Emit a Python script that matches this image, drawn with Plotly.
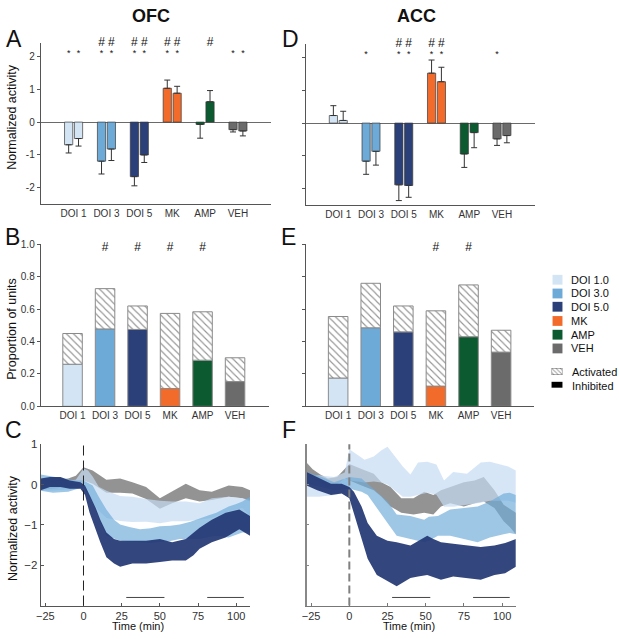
import plotly.graph_objects as go

W, H = 619, 639

# ---------------- data ----------------
categories = ["DOI 1", "DOI 3", "DOI 5", "MK", "AMP", "VEH"]
legend_labels = ["DOI 1.0", "DOI 3.0", "DOI 5.0", "MK", "AMP", "VEH"]
colors = ["#d3e5f4", "#6daad8", "#2b3f78", "#f36b2b", "#0b5a30", "#6b6b6b"]

# Panel A (OFC) normalized activity, two bars per drug
ofc_act_1 = [-0.69, -1.19, -1.66, 1.03, -0.07, -0.23]
ofc_err_1 = [0.25, 0.39, 0.28, 0.25, 0.42, 0.07]
ofc_act_2 = [-0.50, -0.82, -1.00, 0.88, 0.62, -0.27]
ofc_err_2 = [0.23, 0.35, 0.23, 0.21, 0.34, 0.15]
ofc_star_1 = ["*", "*", "*", "*", "", "*"]
ofc_star_2 = ["*", "*", "*", "*", "", "*"]
ofc_hash_1 = ["", "#", "#", "#", "", ""]
ofc_hash_2 = ["", "#", "#", "#", "#", ""]

# Panel D (ACC)
acc_act_1 = [0.23, -1.16, -1.88, 1.52, -0.94, -0.48]
acc_err_1 = [0.30, 0.40, 0.48, 0.40, 0.41, 0.20]
acc_act_2 = [0.08, -0.86, -1.90, 1.26, -0.29, -0.38]
acc_err_2 = [0.28, 0.42, 0.36, 0.44, 0.46, 0.22]
acc_star_1 = ["", "*", "*", "*", "", "*"]
acc_star_2 = ["", "", "*", "*", "", ""]
acc_hash_1 = ["", "", "#", "#", "", ""]
acc_hash_2 = ["", "", "#", "#", "", ""]

# Panels B / E: proportion of units (total responsive, inhibited part)
ofc_total = [0.45, 0.727, 0.62, 0.574, 0.584, 0.30]
ofc_inhib = [0.26, 0.478, 0.475, 0.11, 0.285, 0.153]
ofc_prop_hash = ["", "#", "#", "#", "#", ""]
acc_total = [0.555, 0.76, 0.62, 0.59, 0.75, 0.47]
acc_inhib = [0.175, 0.485, 0.46, 0.125, 0.43, 0.335]
acc_prop_hash = ["", "", "", "#", "#", ""]

# Panels C / F: time courses (upper / lower edges of mean +/- SEM)
ofc_veh_t = [-28, -20, -10, -5, 0, 6, 15, 24, 32, 41, 50, 58, 67, 76, 84, 95, 104, 109]
ofc_veh_up = [0.12, 0.10, 0.15, 0.22, 0.43, 0.35, 0.12, 0.15, 0.06, -0.06, -0.34, -0.18, 0.02, -0.14, -0.18, -0.02, -0.06, -0.14]
ofc_veh_lo = [-0.12, -0.10, -0.05, 0.0, 0.10, 0.02, -0.20, -0.20, -0.22, -0.36, -0.60, -0.46, -0.34, -0.42, -0.38, -0.30, -0.34, -0.42]

ofc_doi1_t = [-28, -20, -10, -5, 0, 3, 6, 10, 15, 24, 32, 41, 50, 58, 67, 76, 84, 95, 104, 109]
ofc_doi1_up = [0.10, 0.08, 0.10, 0.12, 0.40, 0.35, 0.20, -0.05, -0.15, -0.28, -0.30, -0.36, -0.40, -0.42, -0.42, -0.46, -0.34, -0.30, -0.34, -0.38]
ofc_doi1_lo = [-0.15, -0.15, -0.12, -0.10, -0.08, -0.20, -0.45, -0.65, -0.83, -0.90, -0.93, -0.92, -0.96, -0.91, -0.91, -0.87, -0.83, -0.66, -0.58, -0.78]

ofc_doi3_t = [-28, -20, -10, -5, 0, 6, 10, 15, 20, 24, 30, 37, 44, 50, 57, 63, 70, 76, 82, 87, 95, 100, 104, 109]
ofc_doi3_up = [0.25, 0.20, 0.12, 0.10, 0.10, -0.02, -0.30, -0.62, -0.87, -0.99, -1.05, -1.11, -1.08, -1.03, -1.02, -0.99, -0.92, -0.83, -0.76, -0.70, -0.54, -0.48, -0.42, -0.30]
ofc_doi3_lo = [-0.15, -0.20, -0.18, -0.12, -0.06, -0.46, -0.85, -1.27, -1.33, -1.39, -1.42, -1.43, -1.45, -1.43, -1.40, -1.35, -1.35, -1.35, -1.30, -1.27, -1.31, -1.25, -1.19, -1.19]

ofc_doi5_t = [-28, -22, -15, -9, -2, 1, 4, 8, 11, 15, 20, 24, 32, 41, 50, 58, 67, 72, 76, 84, 93, 102, 109]
ofc_doi5_up = [0.15, 0.19, 0.19, 0.10, 0.06, -0.02, -0.26, -0.58, -0.87, -1.19, -1.35, -1.39, -1.39, -1.39, -1.35, -1.43, -1.35, -1.20, -1.07, -0.87, -0.70, -0.62, -0.78]
ofc_doi5_lo = [-0.14, -0.06, -0.06, -0.10, -0.10, -0.26, -0.70, -1.11, -1.43, -1.80, -1.96, -2.04, -1.96, -1.96, -1.92, -1.88, -1.88, -1.75, -1.59, -1.43, -1.31, -1.11, -1.27]

acc_veh_t = [-28, -24, -19, -14, -8, -3, 0, 8, 16, 21, 27, 34, 42, 49, 55, 60, 66, 75, 82, 88, 95, 101, 105, 109]
acc_veh_up = [0.55, 0.38, 0.25, 0.15, 0.19, 0.40, 0.51, 0.39, 0.27, 0.06, -0.06, -0.34, -0.34, -0.18, -0.26, -0.14, -0.06, 0.06, 0.10, 0.19, -0.14, -0.50, -0.60, -0.70]
acc_veh_lo = [0.27, 0.15, 0.05, -0.06, 0.0, 0.15, 0.10, -0.02, -0.14, -0.30, -0.54, -0.70, -0.74, -0.70, -0.74, -0.54, -0.46, -0.54, -0.46, -0.42, -0.58, -0.91, -1.05, -1.23]

acc_doi1_t = [-28, -20, -10, -3, 0, 5, 10, 16, 21, 25, 30, 35, 40, 45, 51, 57, 62, 68, 77, 86, 92, 99, 104, 109]
acc_doi1_up = [0.20, 0.23, 0.19, 0.30, 0.88, 0.75, 0.62, 0.70, 0.85, 0.94, 0.68, 0.45, 0.25, 0.55, 0.57, 0.50, 0.10, 0.31, 0.27, 0.55, 0.57, 0.51, 0.45, 0.35]
acc_doi1_lo = [-0.30, -0.30, -0.26, -0.20, 0.10, 0.08, 0.05, 0.08, 0.05, 0.0, -0.15, -0.30, -0.30, -0.25, -0.20, -0.25, -0.55, -0.55, -0.50, -0.45, -0.40, -0.40, -0.40, -0.45]

acc_doi3_t = [-28, -18, -10, 0, 8, 12, 18, 25, 31, 40, 49, 52, 58, 66, 75, 84, 92, 101, 105, 109]
acc_doi3_up = [0.31, 0.19, 0.06, 0.19, 0.15, 0.02, -0.18, -0.42, -0.74, -0.78, -0.87, -0.80, -0.78, -0.62, -0.58, -0.54, -0.42, -0.22, -0.20, -0.26]
acc_doi3_lo = [0.02, -0.06, -0.14, -0.10, -0.18, -0.26, -0.58, -0.95, -1.27, -1.35, -1.43, -1.40, -1.27, -1.27, -1.35, -1.43, -1.31, -1.23, -1.20, -1.23]

acc_doi5_t = [-28, -21, -12, -5, 0, 3, 8, 12, 18, 25, 31, 40, 45, 51, 55, 60, 68, 77, 86, 95, 102, 109]
acc_doi5_up = [0.31, 0.19, 0.02, 0.02, -0.06, -0.18, -0.54, -0.95, -1.27, -1.39, -1.43, -1.51, -1.40, -1.27, -1.35, -1.43, -1.47, -1.51, -1.55, -1.51, -1.45, -1.35]
acc_doi5_lo = [-0.02, -0.14, -0.26, -0.22, -0.34, -0.70, -1.35, -1.84, -2.24, -2.40, -2.52, -2.32, -2.28, -2.24, -2.30, -2.36, -2.28, -2.32, -2.36, -2.24, -2.20, -2.04]

sig_segments = [(28, 53), (81, 105)]
sig_level = -2.8

time_ticks = [-25, 0, 25, 50, 75, 100]

# ---------------- helpers ----------------
FONT = "Arial, Liberation Sans, Helvetica, sans-serif"
TXT = "#222222"
AX = "#555555"


def px(x):
    return x / W


def py(y):
    return 1 - y / H


fig = go.Figure()


def act_panel(xa, ya, act1, err1, act2, err2, st1, st2, hs1, hs2):
    xs = list(range(len(categories)))
    for vals, errs, off in ((act1, err1, -0.15), (act2, err2, 0.15)):
        plus = [e if v >= 0 else 0 for v, e in zip(vals, errs)]
        minus = [e if v < 0 else 0 for v, e in zip(vals, errs)]
        fig.add_trace(go.Bar(
            x=[i + off for i in xs], y=vals, width=0.25,
            marker=dict(color=colors, line=dict(color="#3a3a3a", width=0.7)),
            error_y=dict(type="data", symmetric=False, array=plus, arrayminus=minus,
                         color="#333333", thickness=1, width=3),
            xaxis=xa, yaxis=ya, showlegend=False, hoverinfo="skip"))
    for marks, off, yv, sz in ((st1, -0.15, 2.08, 9), (st2, 0.15, 2.08, 9),
                               (hs1, -0.15, 2.40, 12), (hs2, 0.15, 2.40, 12)):
        fig.add_trace(go.Scatter(
            x=[i + off for i in xs], y=[yv] * len(xs), text=marks, mode="text",
            textfont=dict(size=sz, color="#111111", family=FONT), cliponaxis=False,
            xaxis=xa, yaxis=ya, showlegend=False, hoverinfo="skip"))


def prop_panel(xa, ya, total, inhib, hashes):
    xs = list(range(len(categories)))
    fig.add_trace(go.Bar(
        x=xs, y=inhib, width=0.6,
        marker=dict(color=colors, line=dict(color="#8a8a8a", width=1)),
        xaxis=xa, yaxis=ya, showlegend=False, hoverinfo="skip"))
    fig.add_trace(go.Bar(
        x=xs, y=[t - i for t, i in zip(total, inhib)], base=inhib, width=0.6,
        marker=dict(color="white", line=dict(color="#8a8a8a", width=1),
                    pattern=dict(shape="\\", size=5, solidity=0.22,
                                 fgcolor="#2a2a2a", bgcolor="white")),
        xaxis=xa, yaxis=ya, showlegend=False, hoverinfo="skip"))
    fig.add_trace(go.Scatter(
        x=xs, y=[0.975] * len(xs), text=hashes, mode="text",
        textfont=dict(size=12, color="#111111", family=FONT), cliponaxis=False,
        xaxis=xa, yaxis=ya, showlegend=False, hoverinfo="skip"))


def band(xa, ya, t, up, lo, fill):
    fig.add_trace(go.Scatter(
        x=t + t[::-1], y=up + lo[::-1], fill="toself", fillcolor=fill,
        mode="lines", line=dict(width=0), xaxis=xa, yaxis=ya,
        showlegend=False, hoverinfo="skip"))


def time_panel(xa, ya, bands):
    for t, up, lo, fill in bands:
        band(xa, ya, t, up, lo, fill)
    sx, sy = [], []
    for a, b in sig_segments:
        sx += [a, b, None]
        sy += [sig_level, sig_level, None]
    fig.add_trace(go.Scatter(x=sx, y=sy, mode="lines", line=dict(color="#444444", width=1),
                             xaxis=xa, yaxis=ya, showlegend=False, hoverinfo="skip"))


GRAY_F = "rgba(128,128,128,0.85)"
DOI1_F = "rgba(196,220,242,0.70)"
DOI3_F = "rgba(112,172,218,0.68)"
DOI5_F = "rgba(36,56,116,0.93)"

act_panel("x", "y", ofc_act_1, ofc_err_1, ofc_act_2, ofc_err_2,
          ofc_star_1, ofc_star_2, ofc_hash_1, ofc_hash_2)
act_panel("x2", "y2", acc_act_1, acc_err_1, acc_act_2, acc_err_2,
          acc_star_1, acc_star_2, acc_hash_1, acc_hash_2)
prop_panel("x3", "y3", ofc_total, ofc_inhib, ofc_prop_hash)
prop_panel("x4", "y4", acc_total, acc_inhib, acc_prop_hash)
time_panel("x5", "y5", [
    (ofc_veh_t, ofc_veh_up, ofc_veh_lo, GRAY_F),
    (ofc_doi1_t, ofc_doi1_up, ofc_doi1_lo, DOI1_F),
    (ofc_doi3_t, ofc_doi3_up, ofc_doi3_lo, DOI3_F),
    (ofc_doi5_t, ofc_doi5_up, ofc_doi5_lo, DOI5_F)])
time_panel("x6", "y6", [
    (acc_veh_t, acc_veh_up, acc_veh_lo, GRAY_F),
    (acc_doi1_t, acc_doi1_up, acc_doi1_lo, DOI1_F),
    (acc_doi3_t, acc_doi3_up, acc_doi3_lo, DOI3_F),
    (acc_doi5_t, acc_doi5_up, acc_doi5_lo, DOI5_F)])

# legend swatch for "Activated" (hatched)
fig.add_trace(go.Bar(
    x=[0], y=[1], width=1,
    marker=dict(color="white", line=dict(color="#555555", width=0.8),
                pattern=dict(shape="\\", size=3, solidity=0.3, fgcolor="#333333", bgcolor="white")),
    xaxis="x7", yaxis="y7", showlegend=False, hoverinfo="skip"))

# ---------------- axes ----------------
tickfont_small = dict(size=10, color="#333333", family=FONT)
tickfont_time = dict(size=11, color="#333333", family=FONT)


def cat_xaxis(x0, x1, rng, anchor):
    return dict(domain=[px(x0), px(x1)], anchor=anchor, range=rng, showline=True,
                linecolor=AX, linewidth=1, ticks="", tickvals=list(range(len(categories))),
                ticktext=categories, tickfont=tickfont_small, showgrid=False,
                zeroline=False, fixedrange=True)


layout = dict(
    width=W, height=H, margin=dict(l=0, r=0, t=0, b=0),
    paper_bgcolor="white", plot_bgcolor="white", barmode="overlay",
    font=dict(family=FONT, color=TXT), showlegend=False,
)

# A
layout["xaxis"] = cat_xaxis(36, 268, [-1, 6], "y")
layout["yaxis"] = dict(domain=[py(202), py(38)], anchor="x", range=[-2.5, 2.4], showline=True,
                       linecolor=AX, linewidth=1, ticks="outside", ticklen=3, tickcolor=AX,
                       tickvals=[2, 1, 0, -1, -2], ticktext=["2", "1", "0", "-1", "-2"],
                       tickfont=tickfont_small, showgrid=False, zeroline=True,
                       zerolinecolor="#6a6a6a", zerolinewidth=1)
# D
layout["xaxis2"] = cat_xaxis(303, 534, [-1, 6], "y2")
layout["yaxis2"] = dict(domain=[py(203), py(39)], anchor="x2", range=[-2.5, 2.4], showline=True,
                        linecolor=AX, linewidth=1, ticks="outside", ticklen=3, tickcolor=AX,
                        tickvals=[2, 1, 0, -1, -2], showticklabels=False, showgrid=False,
                        zeroline=True, zerolinecolor="#6a6a6a", zerolinewidth=1)
# B
layout["xaxis3"] = cat_xaxis(36, 266, [-0.98, 6.04], "y3")
layout["yaxis3"] = dict(domain=[py(408), py(243)], anchor="x3", range=[0, 1.0], showline=True,
                        linecolor=AX, linewidth=1, ticks="outside", ticklen=3, tickcolor=AX,
                        tickvals=[0, 0.2, 0.4, 0.6, 0.8, 1.0], tickformat=".1f",
                        tickfont=tickfont_small, showgrid=False, zeroline=False)
# E
layout["xaxis4"] = cat_xaxis(303, 533, [-1.0, 6.0], "y4")
layout["yaxis4"] = dict(domain=[py(408), py(243)], anchor="x4", range=[0, 1.0], showline=True,
                        linecolor=AX, linewidth=1, ticks="outside", ticklen=3, tickcolor=AX,
                        tickvals=[0, 0.2, 0.4, 0.6, 0.8, 1.0], showticklabels=False,
                        showgrid=False, zeroline=False)
# C
layout["xaxis5"] = dict(domain=[px(36), px(247)], anchor="y5", range=[-28, 109], showline=True,
                        linecolor=AX, linewidth=1, ticks="inside", ticklen=3, tickcolor=AX,
                        tickvals=time_ticks, tickfont=tickfont_time, showgrid=False,
                        zeroline=False)
layout["yaxis5"] = dict(domain=[py(611), py(446.7)], anchor="x5", range=[-3, 1], showline=True,
                        linecolor=AX, linewidth=1, ticks="inside", ticklen=3, tickcolor=AX,
                        tickvals=[1, 0, -1, -2], tickfont=dict(size=11.5, color="#333333", family=FONT),
                        showgrid=False, zeroline=False)
# F
layout["xaxis6"] = dict(domain=[px(304), px(515)], anchor="y6", range=[-28, 109], showline=True,
                        linecolor="#777777", linewidth=1, ticks="inside", ticklen=3,
                        tickcolor="#777777", tickvals=time_ticks, tickfont=tickfont_time,
                        showgrid=False, zeroline=False)
layout["yaxis6"] = dict(domain=[py(611), py(446.7)], anchor="x6", range=[-3, 1], showline=True,
                        linecolor="#888888", linewidth=1.5, ticks="inside", ticklen=3,
                        tickcolor="#888888", tickvals=[1, 0, -1, -2], showticklabels=False,
                        showgrid=False, zeroline=False)
# legend swatch axis
layout["xaxis7"] = dict(domain=[px(551), px(562)], anchor="y7", range=[-0.5, 0.5], visible=False)
layout["yaxis7"] = dict(domain=[py(376), py(369)], anchor="x7", range=[0, 1], visible=False)

fig.update_layout(**layout)

# ---------------- shapes ----------------
shapes = []
shapes.append(dict(type="line", xref="x5", yref="y5 domain", x0=0, x1=0, y0=0, y1=1,
                   line=dict(color="#222222", width=1, dash="10px,5px")))
shapes.append(dict(type="line", xref="x6", yref="y6 domain", x0=0, x1=0, y0=0, y1=1,
                   line=dict(color="#808080", width=2, dash="8px,4px")))

legend_centers = [279, 293, 306.5, 321, 335, 349]
for c, col in zip(legend_centers, colors):
    shapes.append(dict(type="rect", xref="paper", yref="paper",
                       x0=px(552), x1=px(562), y0=py(c + 5), y1=py(c - 5),
                       fillcolor=col, line=dict(width=0)))
shapes.append(dict(type="rect", xref="paper", yref="paper",
                   x0=px(551), x1=px(562), y0=py(389), y1=py(383),
                   fillcolor="black", line=dict(width=0)))
fig.update_layout(shapes=shapes)

# ---------------- annotations ----------------
ann = []


def text(x, y, s, size, bold=False, angle=0, xanchor="center"):
    ann.append(dict(x=px(x), y=py(y), xref="paper", yref="paper", text=("<b>%s</b>" % s) if bold else s,
                    showarrow=False, xanchor=xanchor, yanchor="middle", textangle=angle,
                    font=dict(size=size, color="#111111", family=FONT)))


text(147.5, 10, "OFC", 18, bold=True)
text(415, 10, "ACC", 18, bold=True)
for letter, x, y in (("A", 9, 33.5), ("B", 7.5, 235.5), ("C", 8.5, 432.5),
                     ("D", 287.5, 33.5), ("E", 285.5, 235.5), ("F", 286, 432.5)):
    text(x, y, letter, 23)
text(7, 113, "Normalized activity", 12.5, angle=-90)
text(7.5, 329.5, "Proportion of units", 12.5, angle=-90)
text(7.5, 531.5, "Normalized activity", 12.5, angle=-90)
text(134, 631.5, "Time (min)", 11)
text(407, 631.5, "Time (min)", 11)
for c, lab in zip(legend_centers, legend_labels):
    text(569, c, lab, 11, xanchor="left")
text(570, 373, "Activated", 11, xanchor="left")
text(570, 387, "Inhibited", 11, xanchor="left")
fig.update_layout(annotations=ann)

fig.write_html("out.html", config={"displayModeBar": False},
               post_script="document.body.style.margin='0px';document.body.style.overflow='hidden';")
